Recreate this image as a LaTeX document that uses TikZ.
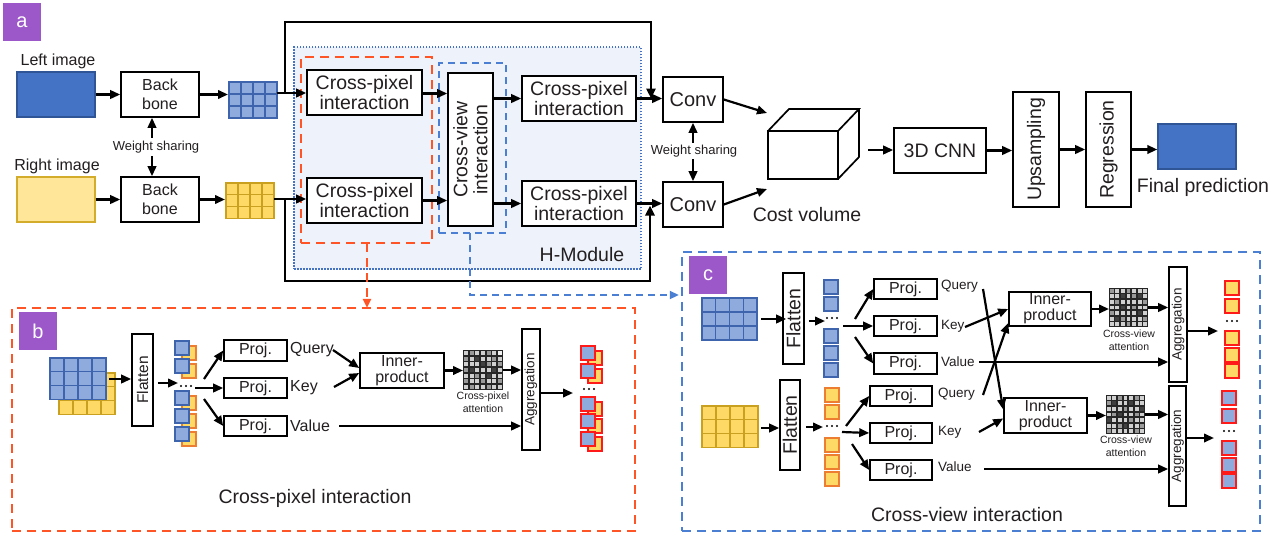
\documentclass[tikz,border=0pt]{standalone}
\usepackage{fontspec}
\setmainfont{Liberation Sans}
\usetikzlibrary{arrows.meta}
\definecolor{purp}{HTML}{9C57C9}
\definecolor{redd}{HTML}{FF5426}
\definecolor{blued}{HTML}{4A7FD4}
\definecolor{hmod}{HTML}{EEF2FA}
\definecolor{imgblue}{HTML}{4472C4}
\definecolor{imgblueb}{HTML}{2F5597}
\definecolor{imgyel}{HTML}{FFE699}
\definecolor{imgyelb}{HTML}{D4AC2B}
\definecolor{cellblue}{HTML}{8FAADC}
\definecolor{cellblueb}{HTML}{3E64AE}
\definecolor{cellyel}{HTML}{FFD966}
\definecolor{cellyelb}{HTML}{C9A020}
\definecolor{tokorange}{HTML}{ED7D31}
\definecolor{outred}{HTML}{FF1A1A}
\definecolor{txt}{HTML}{231F20}
\definecolor{ag0}{HTML}{F2F2F2}
\definecolor{ag1}{HTML}{D0D0D0}
\definecolor{ag2}{HTML}{9A9A9A}
\definecolor{ag3}{HTML}{404040}
\newcommand\fsz[2]{\fontsize{#1}{#2}\selectfont}
\newcommand\fgrid[8]{%
  \foreach \cx in {1,...,#3}{\foreach \cy in {1,...,#4}{%
    \filldraw[fill=#7,draw=#8,line width=1.1pt] ({#1+(\cx-1)*#5},{#2+(\cy-1)*#6}) rectangle ++(#5,#6);}}}
\newcommand\tokq[4]{\filldraw[fill=#3,draw=#4,line width=1.2pt] (#1,#2) rectangle ++(14,14);}
\newcommand\attgrid[4]{%
  \fill[black!85] (#1,#2) rectangle ++(#3,#3);
  \foreach \v [count=\idx from 0] in {#4}{%
    \pgfmathtruncatemacro\agr{floor(\idx/7)}%
    \pgfmathtruncatemacro\agc{mod(\idx,7)}%
    \fill[ag\v] ({#1+#3/7*\agc+0.8},{#2+#3/7*\agr+0.8}) rectangle ++({#3/7-1.6},{#3/7-1.6});}}
\newcommand\threedots{}
\renewcommand\threedots[2]{\fill[black] (#1-5,#2) circle (1.2) (#1,#2) circle (1.2) (#1+5,#2) circle (1.2);}
\tikzset{
  bx/.style={draw=black, line width=1.6pt, fill=white, inner sep=0pt, align=center, text=txt},
  txtn/.style={inner sep=0pt, text=txt, align=center},
  arr/.style={-{Triangle[length=10pt,width=8.5pt]}, line width=2.2pt},
  arrk/.style={-{Triangle[length=10pt,width=9pt]}, line width=2.8pt, line join=miter},
  lbl/.style={fill=purp, text=white, minimum width=38pt, minimum height=38pt, inner sep=0pt, font={\fsz{20}{22}}},
  imgb/.style={draw=imgblueb, fill=imgblue, line width=1.4pt, minimum width=78pt, minimum height=45pt, inner sep=0pt},
  imgy/.style={draw=imgyelb, fill=imgyel, line width=1.4pt, minimum width=78pt, minimum height=45pt, inner sep=0pt},
  rdash/.style={draw=redd, line width=2.4pt, dash pattern=on 9pt off 6pt},
  bdash/.style={draw=blued, line width=1.9pt, dash pattern=on 7pt off 5pt},
  bdashb/.style={draw=blued, line width=2.4pt, dash pattern=on 9pt off 6pt},
  hdot/.style={draw=imgblue, fill=hmod, line width=1.4pt, dash pattern=on 1.5pt off 1.5pt},
  cubel/.style={line width=1.7pt, line join=miter},
  ph/.style={inner sep=0pt, outer sep=0pt}
}
\begin{document}
\begin{tikzpicture}[x=1pt,y=-1pt]
\useasboundingbox (0,0) rectangle (1283,536);
\fill[white] (0,0) rectangle (1283,536);

% ================= panel a =================
\node[lbl] (la) at (22,22) {a};
\node[txtn, font={\fsz{16}{19}}] (tleft) at (58,61) {Left image};
\node[imgb] (limg) at (56,94.5) {};
\node[txtn, font={\fsz{16}{19}}] (tright) at (57,166) {Right image};
\node[imgy] (rimg) at (56,199.5) {};
\node[bx, minimum width=78, minimum height=45, font={\fsz{16}{19}}] (bb1) at (160,94.5) {Back\\bone};
\node[bx, minimum width=78, minimum height=45, font={\fsz{16}{19}}] (bb2) at (160,199.5) {Back\\bone};
\node[txtn, font={\fsz{13}{15}}] (ws1) at (156,147) {Weight sharing};
\draw[arr] ([xshift=-4,yshift=3]ws1.north) -- ([xshift=-4]ws1.north |- bb1.south);
\draw[arr] ([xshift=-4,yshift=-3]ws1.south) -- ([xshift=-4]ws1.south |- bb2.north);
\draw[arr] (limg.east) -- (bb1.west);
\draw[arr] (rimg.east) -- (bb2.west);

\node[ph, minimum width=48, minimum height=36] (g1) at (253,100) {};
\fgrid{229}{82}{4}{3}{12}{12}{cellblue}{cellblueb}
\node[ph, minimum width=48, minimum height=36] (g2) at (250,200.5) {};
\fgrid{226}{183}{4}{3}{12}{11.7}{cellyel}{cellyelb}
\draw[arr] (bb1.east) -- ([xshift=-1]bb1.east -| g1.west);
\draw[arr] (bb2.east) -- ([xshift=-1]bb2.east -| g2.west);

% H-Module
\node[hdot, minimum width=347, minimum height=222, inner sep=0] (hm) at (467.5,158) {};
\node[rdash, minimum width=131, minimum height=186, inner sep=0] (rbox) at (366.5,150) {};
\node[bdash, minimum width=67, minimum height=170, inner sep=0] (bbox) at (472.5,148) {};
\node[txtn, font={\fsz{19.5}{21}}] (hmt) at (582,255) {H-Module};

\node[bx, minimum width=115, minimum height=45, font={\fsz{19.5}{20}}] (cp1) at (364.5,92.5) {Cross-pixel\\interaction};
\node[bx, minimum width=115, minimum height=45, font={\fsz{19.5}{20}}] (cp2) at (364.5,200.5) {Cross-pixel\\interaction};
\node[bx, rotate=90, minimum width=153, minimum height=45, font={\fsz{19.5}{20}}] (cv) at (470.5,149.5) {Cross-view\\interaction};
\node[bx, minimum width=114, minimum height=45, font={\fsz{19.5}{20}}] (cp3) at (579,98.5) {Cross-pixel\\interaction};
\node[bx, minimum width=114, minimum height=45, font={\fsz{19.5}{20}}] (cp4) at (579,203.5) {Cross-pixel\\interaction};

\node[bx, minimum width=60, minimum height=45, font={\fsz{20}{22}}] (conv1) at (693,99.5) {Conv};
\node[bx, minimum width=60, minimum height=45, font={\fsz{20}{22}}] (conv2) at (693,204.5) {Conv};
\node[txtn, font={\fsz{13}{15}}] (ws2) at (694,151) {Weight sharing};
\draw[arr] ([xshift=-1,yshift=2]ws2.north) -- ([xshift=-1]ws2.north |- conv1.south);
\draw[arr] ([xshift=-1,yshift=-2]ws2.south) -- ([xshift=-1]ws2.south |- conv2.north);

\draw[arr] ([yshift=-1]cp1.east) -- ([yshift=-1]cp1.east -| cv.north);
\draw[arr] (cp2.east) -- (cp2.east -| cv.north);
\draw[arr] (cp3.west -| cv.south) -- (cp3.west);
\draw[arr] (cp4.west -| cv.south) -- (cp4.west);
\draw[arr] (cp3.east) -- (cp3.east -| conv1.west);
\draw[arr] (cp4.east) -- (cp4.east -| conv2.west);

% skip connections
\coordinate (s1) at (285,93);
\coordinate (s1t) at (285,22);
\coordinate (s1r) at (651,22);
\coordinate (s2) at (285,199);
\coordinate (s2b) at (285,281);
\coordinate (s2r) at (650,281);
\draw[arr] (s1 -| g1.east) -- (s1 -| cp1.west);
\draw[arr] (s2 -| g2.east) -- (s2 -| cp2.west);
\draw[arrk] (s1) -- (s1t) -- (s1r) -- ([yshift=1]s1r |- conv1.west);
\draw[arrk] (s2) -- (s2b) -- (s2r) -- ([yshift=-1]s2r |- conv2.west);

% cost volume cube
\draw[cubel] (768,131) rectangle (838,179);
\draw[cubel] (768,131) -- (789,109) -- (859,109) -- (838,131);
\draw[cubel] (859,109) -- (859,157) -- (838,179);
\node[txtn, font={\fsz{19.5}{21}}] (cvol) at (807,215) {Cost volume};
\coordinate (cvin1) at (767,113);
\coordinate (cvin2) at (767,189);
\coordinate (cvout) at (868,150);
\draw[arr] (conv1.east) -- (cvin1);
\draw[arr] (conv2.east) -- (cvin2);

\node[bx, minimum width=92, minimum height=45, font={\fsz{19.5}{21}}] (cnn) at (940,150.5) {3D CNN};
\node[bx, rotate=90, minimum width=115, minimum height=46, font={\fsz{19.5}{21}}] (ups) at (1036,149.5) {Upsampling};
\node[bx, rotate=90, minimum width=115, minimum height=45, font={\fsz{19.5}{21}}] (reg) at (1108.5,149.5) {Regression};
\node[imgb] (fp) at (1197,146.5) {};
\node[txtn, font={\fsz{19.5}{21}}] (fpt) at (1203,187) {Final prediction};
\draw[arr] (cvout) -- (cvout -| cnn.west);
\draw[arr] (cnn.east) -- (cnn.east -| ups.north);
\draw[arr] (ups.south) -- (ups.south -| reg.north);
\draw[arr] (reg.south) -- (reg.south -| fp.west);

% ================= panel b =================
\node[rdash, minimum width=623, minimum height=223, inner sep=0] (pb) at (323.5,419.5) {};
\node[lbl] (lb) at (38,331) {b};
\coordinate (ra) at (367,243);
\draw[rdash, -{Triangle[length=9pt,width=8pt]}] (ra) -- ([yshift=-1]ra |- pb.north);
\coordinate (ba) at (470,233);
\coordinate (bbend) at (470,295);

\fgrid{59}{373}{4}{3}{14}{13.7}{cellyel}{cellyelb}
\fgrid{50}{358}{4}{3}{14}{13.7}{cellblue}{cellblueb}
\node[ph, minimum width=56, minimum height=41] (gb) at (78,378.5) {};
\coordinate (gbo) at (109,379);
\node[bx, rotate=90, minimum width=92, minimum height=21, font={\fsz{15.5}{17}}] (flb) at (142.5,380) {Flatten};
\draw[arr] (gbo) -- (gbo -| flb.north);

\foreach \t in {341,359,391,409,427}{\tokq{182}{\t+5}{cellyel}{tokorange}}
\foreach \t in {341,359,391,409,427}{\tokq{175}{\t}{cellblue}{cellblueb}}
\threedots{186}{386}
\coordinate (tb) at (178,383);
\draw[arr] ([xshift=4]flb.south |- tb) -- (tb);

\node[bx, minimum width=63, minimum height=21, font={\fsz{16}{18}}] (pb1) at (255.5,350.5) {Proj.};
\node[bx, minimum width=63, minimum height=20, font={\fsz{16}{18}}] (pb2) at (255.5,388) {Proj.};
\node[bx, minimum width=63, minimum height=20, font={\fsz{16}{18}}] (pb3) at (255.5,426) {Proj.};
\coordinate (fb) at (195,388);
\coordinate (fbu) at (204,379);
\coordinate (fbl) at (204,399);
\draw[arr] (fbu) -- (pb1.west);
\draw[arr] (fb) -- (pb2.west);
\draw[arr] (fbl) -- (pb3.west);
\node[txtn, anchor=west, font={\fsz{16}{18}}] (qbl) at (290,350) {Query};
\node[txtn, anchor=west, font={\fsz{16}{18}}] (kbl) at (290,388) {Key};
\node[txtn, anchor=west, font={\fsz{16}{18}}] (vbl) at (290,426) {Value};

\node[bx, minimum width=84, minimum height=35, font={\fsz{16}{16}}] (ib) at (402,370.5) {Inner-\\product};
\coordinate (qbo) at (333,350);
\coordinate (kbo) at (334,387);
\coordinate (vbo) at (339,426);
\draw[arr] (qbo) -- ([yshift=2.5]ib.west);
\draw[arr] (kbo) -- ([yshift=-2.5]ib.west);

\attgrid{463}{350}{40}{1,2,1,1,2,1,0,2,1,3,1,1,2,1,1,1,1,3,2,1,2,2,3,1,1,1,3,1,1,1,2,1,3,1,1,2,1,1,2,1,1,2,1,2,1,1,2,1,1}
\node[ph, minimum width=40, minimum height=40] (atb) at (483,370) {};
\node[txtn, font={\fsz{10.5}{13}}] (atbt) at (483,402) {Cross-pixel\\attention};
\node[bx, rotate=90, minimum width=121, minimum height=18, font={\fsz{13.5}{15}}] (agb) at (531,389.5) {Aggregation};
\draw[arr] (ib.east) -- (ib.east -| atb.west);
\draw[arr] (atb.east) -- (atb.east -| agb.north);
\draw[arr] (vbo) -- (vbo -| agb.north);
\coordinate (ob) at (573,393);
\draw[arr] (ob -| agb.south) -- (ob);
\foreach \t in {346,364,397,414,432}{\tokq{588}{\t+5}{cellyel}{outred}}
\foreach \t in {346,364,397,414,432}{\tokq{581}{\t}{cellblue}{outred}}
\threedots{589}{389}
\node[txtn, font={\fsz{19.5}{21}}] (pbt) at (315,498) {Cross-pixel interaction};

% ================= panel c =================
\node[bdashb, minimum width=578, minimum height=279, inner sep=0] (pc) at (971,391.5) {};
\node[lbl] (lc) at (708,275) {c};
\draw[bdash, -{Triangle[length=9pt,width=8pt]}] (ba) -- (bbend) -- ([xshift=-2]bbend -| pc.west);

\fgrid{702}{298}{4}{3}{13.75}{14}{cellblue}{cellblueb}
\node[ph, minimum width=55, minimum height=42] (gc1) at (729.5,319) {};
\node[bx, rotate=90, minimum width=91, minimum height=21, font={\fsz{19.5}{21}}] (flc1) at (793.5,318.5) {Flatten};
\draw[arr] ([xshift=4]gc1.east) -- ([xshift=4]gc1.east -| flc1.north);
\foreach \t in {280,297,329,346,363}{\tokq{824}{\t}{cellblue}{cellblueb}}
\threedots{832}{318}
\coordinate (tc1) at (825,321);
\draw[arr] ([xshift=4]flc1.south |- tc1) -- (tc1);
\node[bx, minimum width=63, minimum height=20, font={\fsz{16}{18}}] (pc1) at (905.5,289) {Proj.};
\node[bx, minimum width=63, minimum height=20, font={\fsz{16}{18}}] (pc2) at (905.5,326) {Proj.};
\node[bx, minimum width=63, minimum height=21, font={\fsz{16}{18}}] (pc3) at (905.5,363.5) {Proj.};
\coordinate (fc1) at (843,326);
\coordinate (fc1u) at (855,319);
\coordinate (fc1l) at (855,337);
\draw[arr] (fc1u) -- (pc1.west);
\draw[arr] (fc1) -- (pc2.west);
\draw[arr] (fc1l) -- (pc3.west);
\node[txtn, anchor=west, font={\fsz{13.5}{15}}] (qc1) at (941,286) {Query};
\node[txtn, anchor=west, font={\fsz{13.5}{15}}] (kc1) at (941,326) {Key};
\node[txtn, anchor=west, font={\fsz{13.5}{15}}] (vc1) at (941,362) {Value};

\fgrid{702}{406}{4}{3}{14}{13.7}{cellyel}{cellyelb}
\node[ph, minimum width=56, minimum height=41] (gc2) at (730,426.5) {};
\node[bx, rotate=90, minimum width=90, minimum height=20, font={\fsz{19.5}{21}}] (flc2) at (790,425) {Flatten};
\draw[arr] ([xshift=3,yshift=-1.5]gc2.east) -- ([yshift=-1.5]gc2.east -| flc2.north);
\foreach \t in {388,405,438,455,472}{\tokq{825}{\t}{cellyel}{tokorange}}
\threedots{832}{426}
\coordinate (tc2) at (823,427);
\draw[arr] ([xshift=5]flc2.south |- tc2) -- (tc2);
\node[bx, minimum width=62, minimum height=20, font={\fsz{16}{18}}] (pc4) at (901,396) {Proj.};
\node[bx, minimum width=62, minimum height=20, font={\fsz{16}{18}}] (pc5) at (901,433) {Proj.};
\node[bx, minimum width=62, minimum height=20, font={\fsz{16}{18}}] (pc6) at (901,470) {Proj.};
\coordinate (fc2) at (842,432);
\coordinate (fc2u) at (846,426);
\coordinate (fc2l) at (852,444);
\draw[arr] (fc2u) -- (pc4.west);
\draw[arr] (fc2) -- (pc5.west);
\draw[arr] (fc2l) -- (pc6.west);
\node[txtn, anchor=west, font={\fsz{13.5}{15}}] (qc2) at (938,394) {Query};
\node[txtn, anchor=west, font={\fsz{13.5}{15}}] (kc2) at (938,432) {Key};
\node[txtn, anchor=west, font={\fsz{13.5}{15}}] (vc2) at (938,467) {Value};

\node[bx, minimum width=82, minimum height=34, font={\fsz{16}{16}}] (ic1) at (1050,309) {Inner-\\product};
\node[bx, minimum width=83, minimum height=35, font={\fsz{16}{16}}] (ic2) at (1045.5,415.5) {Inner-\\product};
\attgrid{1109}{288}{39}{2,1,1,2,1,1,1,1,1,3,1,2,3,1,1,2,1,1,1,1,2,1,1,3,1,2,1,1,2,1,1,1,1,3,1,1,3,2,1,1,1,2,1,1,1,2,1,1,1}
\node[ph, minimum width=39, minimum height=39] (at1) at (1128.5,307.5) {};
\node[txtn, font={\fsz{10.5}{13.5}}] (at1t) at (1129,340) {Cross-view\\attention};
\attgrid{1106}{395}{39}{1,1,2,1,1,2,1,2,3,1,1,3,1,1,1,1,1,2,1,1,3,1,2,3,1,1,2,1,3,1,1,1,2,1,1,1,1,2,3,1,1,2,2,1,1,1,1,2,1}
\node[ph, minimum width=39, minimum height=39] (at2) at (1125.5,414.5) {};
\node[txtn, font={\fsz{10.5}{13.5}}] (at2t) at (1126,446) {Cross-view\\attention};
\node[bx, rotate=90, minimum width=115, minimum height=18, font={\fsz{13.5}{15}}] (ag1) at (1178,324.5) {Aggregation};
\node[bx, rotate=90, minimum width=120, minimum height=17, font={\fsz{13.5}{15}}] (ag2) at (1177.5,446) {Aggregation};

\coordinate (q1s) at (983,289);
\coordinate (k1s) at (965,327);
\coordinate (v1s) at (979,362);
\coordinate (q2s) at (983,395);
\coordinate (k2s) at (979,432);
\coordinate (v2s) at (984,469);
\draw[arr] (q1s) -- ([yshift=6]ic2.west);
\draw[arr] (k1s) -- (ic1.west);
\draw[arr] (v1s) -- (v1s -| ag1.north);
\draw[arr] (q2s) -- ([yshift=-14]ic1.west);
\draw[arr] (k2s) -- ([yshift=-3]ic2.west);
\draw[arr] (v2s) -- (v2s -| ag2.north);

\draw[arr] (ic1.east) -- (ic1.east -| at1.west);
\draw[arr] (ic2.east) -- (ic2.east -| at2.west);
\draw[arr] (at1.east) -- (at1.east -| ag1.north);
\draw[arr] (at2.east) -- (at2.east -| ag2.north);
\coordinate (o1) at (1218,331);
\coordinate (o2) at (1214,438);
\draw[arr] (o1 -| ag1.south) -- (o1);
\draw[arr] (o2 -| ag2.south) -- (o2);
\foreach \t in {281,299,331,348,364}{\tokq{1225}{\t}{cellyel}{outred}}
\threedots{1232}{321}
\foreach \t in {391,409,441,458,474}{\tokq{1222}{\t}{cellblue}{outred}}
\threedots{1229}{431}
\node[txtn, font={\fsz{19.5}{21}}] (pct) at (967,515) {Cross-view interaction};
\end{tikzpicture}
\end{document}
